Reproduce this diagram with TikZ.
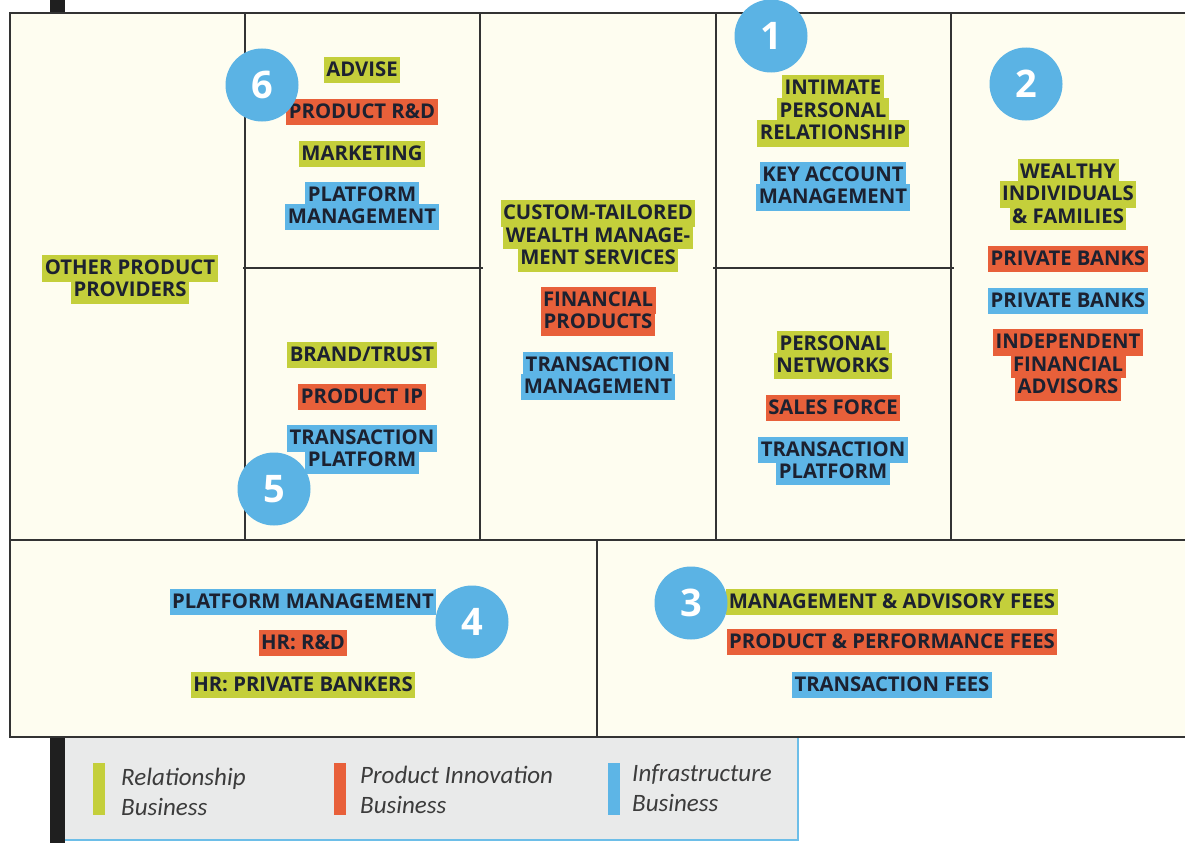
\documentclass[tikz,border=0pt]{standalone}
\usepackage{fontspec}
\setmainfont{Open Sans}
\newfontfamily\legfont{Carlito}
\definecolor{hg}{HTML}{C4CF3B}
\definecolor{hr}{HTML}{E8603A}
\definecolor{hb}{HTML}{5DB5E6}
\definecolor{numblue}{HTML}{5BB3E4}
\definecolor{cream}{HTML}{FEFDF0}
\definecolor{ink}{HTML}{1C2130}
\definecolor{framec}{HTML}{333333}
\definecolor{legbg}{HTML}{E9EAEA}
\definecolor{legline}{HTML}{6DBEE8}
\definecolor{leggray}{HTML}{3C3C3C}
\newcommand\hlbx[2]{{\setlength\fboxsep{0pt}\colorbox{#1}{\rule[-7pt]{0pt}{26.5pt}\hspace{2.5pt}#2\hspace{2.5pt}}}}
\newcommand\HG[1]{\hlbx{hg}{#1}}
\newcommand\HR[1]{\hlbx{hr}{#1}}
\newcommand\HB[1]{\hlbx{hb}{#1}}
\begin{document}
\begin{tikzpicture}[x=1pt,y=-1pt,
  lbl/.style={inner sep=0pt, align=center, text=ink,
    font={\fontsize{20.3}{22.3}\selectfont\bfseries\lineskiplimit=-100pt\lineskip=0pt}},
  num/.style={circle, fill=numblue, text=white, minimum size=73pt, inner sep=0pt,
    font={\fontsize{38}{38}\selectfont\bfseries}},
  outerline/.style={draw=framec, line width=2.5pt},
  innerline/.style={draw=framec, line width=1.5pt},
  legtxt/.style={anchor=west, align=left, inner sep=0pt, text=leggray,
    font={\legfont\itshape\fontsize{25}{30.5}\selectfont}}]
\useasboundingbox (0,0) rectangle (1185,843);
\fill[white] (0,0) rectangle (1185,843);
% canvas background
\fill[cream] (10,13) rectangle (1185,737);
% black bars
\fill[black!88] (50,0) rectangle (65,12);
\fill[black!88] (50,737) rectangle (65,843);
% legend box
\fill[legbg] (65,737) rectangle (798,840);
\draw[legline, line width=2.5pt] (798,737) -- (798,840) -- (65,840);
% frame
\draw[innerline] (245,13) -- (245,540);
\draw[innerline] (480,13) -- (480,540);
\draw[innerline] (716,13) -- (716,540);
\draw[innerline] (951,13) -- (951,540);
\draw[innerline] (243,268) -- (483,268);
\draw[innerline] (713,268) -- (954,268);
\draw[innerline] (10,540) -- (1185,540);
\draw[innerline] (597,540) -- (597,737);
\draw[outerline] (1185,13) -- (10,13) -- (10,737) -- (1185,737);
% labels
\node[lbl] (opp) at (130,279.5) {\HG{OTHER PRODUCT}\\\HG{PROVIDERS}};
\node[lbl] (adv) at (362,70) {\HG{ADVISE}};
\node[lbl] (prd) at (362,112) {\HR{PRODUCT R\&D}};
\node[lbl] (mkt) at (362,154) {\HG{MARKETING}};
\node[lbl] (pm) at (362,206) {\HB{PLATFORM}\\\HB{MANAGEMENT}};
\node[lbl] (bt) at (362,355) {\HG{BRAND/TRUST}};
\node[lbl] (pip) at (362,397) {\HR{PRODUCT IP}};
\node[lbl] (tpa) at (362,449.5) {\HB{TRANSACTION}\\\HB{PLATFORM}};
\node[lbl] (ctw) at (598,236) {\HG{CUSTOM-TAILORED}\\\HG{WEALTH MANAGE-}\\\HG{MENT SERVICES}};
\node[lbl] (fp) at (598,311.5) {\HR{FINANCIAL}\\\HR{PRODUCTS}};
\node[lbl] (tm) at (598,376) {\HB{TRANSACTION}\\\HB{MANAGEMENT}};
\node[lbl] (ipr) at (833,111) {\HG{INTIMATE}\\\HG{PERSONAL}\\\HG{RELATIONSHIP}};
\node[lbl] (kam) at (833,186.5) {\HB{KEY ACCOUNT}\\\HB{MANAGEMENT}};
\node[lbl] (pn) at (833,355) {\HG{PERSONAL}\\\HG{NETWORKS}};
\node[lbl] (sf) at (833,408) {\HR{SALES FORCE}};
\node[lbl] (tpb) at (833,461) {\HB{TRANSACTION}\\\HB{PLATFORM}};
\node[lbl] (wif) at (1068,194.5) {\HG{WEALTHY}\\\HG{INDIVIDUALS}\\\HG{\& FAMILIES}};
\node[lbl] (pba) at (1068,259) {\HR{PRIVATE BANKS}};
\node[lbl] (pbb) at (1068,301) {\HB{PRIVATE BANKS}};
\node[lbl] (ifa) at (1068,365) {\HR{INDEPENDENT}\\\HR{FINANCIAL}\\\HR{ADVISORS}};
\node[lbl] (pmg) at (303,602) {\HB{PLATFORM MANAGEMENT}};
\node[lbl] (hrd) at (303,643) {\HR{HR: R\&D}};
\node[lbl] (hpb) at (303,685) {\HG{HR: PRIVATE BANKERS}};
\node[lbl] (maf) at (892,602) {\HG{MANAGEMENT \& ADVISORY FEES}};
\node[lbl] (ppf) at (892,642) {\HR{PRODUCT \& PERFORMANCE FEES}};
\node[lbl] (tf) at (892,685) {\HB{TRANSACTION FEES}};
% numbered circles
\node[num] (c1) at (771,36) {1};
\node[num] (c2) at (1026,84) {2};
\node[num] (c3) at (691,603) {3};
\node[num] (c4) at (472,622) {4};
\node[num] (c5) at (274,489) {5};
\node[num] (c6) at (262,85) {6};
% legend
\fill[hg] (93,763) rectangle (105,815);
\fill[hr] (334,763) rectangle (346,815);
\fill[hb] (608,763) rectangle (620,815);
\node[legtxt] (lg1) at (121,792) {Relationship\\Business};
\node[legtxt] (lg2) at (360,790) {Product Innovation\\Business};
\node[legtxt] (lg3) at (632,788) {Infrastructure\\Business};
\end{tikzpicture}
\end{document}
